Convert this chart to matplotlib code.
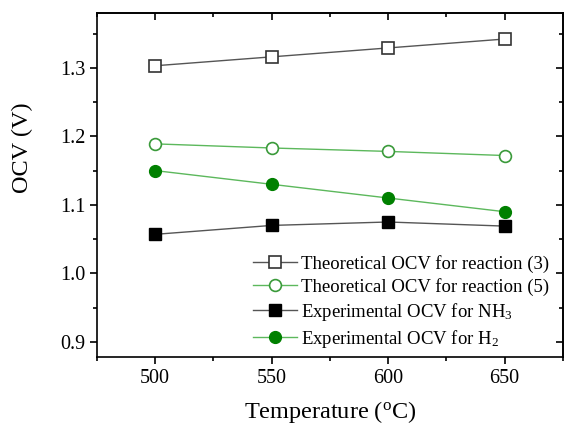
import matplotlib
matplotlib.use("Agg")
import matplotlib.pyplot as plt
from matplotlib.ticker import MultipleLocator

temps = [500, 550, 600, 650]
theo3 = [1.303, 1.316, 1.329, 1.342]
theo5 = [1.189, 1.183, 1.178, 1.172]
exp_nh3 = [1.057, 1.070, 1.075, 1.069]
exp_h2 = [1.150, 1.130, 1.110, 1.090]
labels = ["Theoretical OCV for reaction (3)",
          "Theoretical OCV for reaction (5)",
          "Experimental OCV for NH$_3$",
          "Experimental OCV for H$_2$"]

plt.rcParams['font.family'] = ['Liberation Serif', 'DejaVu Serif']
plt.rcParams['mathtext.fontset'] = 'custom'
plt.rcParams['mathtext.rm'] = 'Liberation Serif'
plt.rcParams['mathtext.it'] = 'Liberation Serif'

fig = plt.figure(figsize=(5.64, 4.26), dpi=100)
ax = fig.add_axes([0.172, 0.162, 0.826, 0.8075])

gray = '#555555'
lgreen = '#5cb85c'
green = '#008000'

ax.plot(temps, theo3, '-', color=gray, lw=1, marker='s', ms=8, mfc='white', mec='#333333', mew=1.2, label=labels[0])
ax.plot(temps, theo5, '-', color=lgreen, lw=1, marker='o', ms=8.5, mfc='white', mec='#3a9a3a', mew=1.2, label=labels[1])
ax.plot(temps, exp_nh3, '-', color=gray, lw=1, marker='s', ms=8, mfc='black', mec='black', label=labels[2])
ax.plot(temps, exp_h2, '-', color=lgreen, lw=1, marker='o', ms=8.5, mfc=green, mec=green, label=labels[3])

ax.set_xlim(475, 675)
ax.set_ylim(0.878, 1.38)
ax.set_xticks(temps)
ax.set_yticks([0.9, 1.0, 1.1, 1.2, 1.3])
ax.xaxis.set_minor_locator(MultipleLocator(25))
ax.yaxis.set_minor_locator(MultipleLocator(0.05))
ax.tick_params(which='both', direction='out', labelsize=14.5, width=1.2)
ax.tick_params(which='major', length=5)
ax.tick_params(which='minor', length=3)
for s in ax.spines.values():
    s.set_linewidth(1.2)

# mirrored ticks pointing inward on top and right
sec_x = ax.secondary_xaxis('top')
sec_x.set_xticks(temps)
sec_x.xaxis.set_minor_locator(MultipleLocator(25))
sec_x.tick_params(which='both', direction='in', labeltop=False, width=1.2)
sec_x.tick_params(which='major', length=5)
sec_x.tick_params(which='minor', length=3)
sec_x.spines['top'].set_linewidth(1.2)
sec_y = ax.secondary_yaxis('right')
sec_y.set_yticks([0.9, 1.0, 1.1, 1.2, 1.3])
sec_y.yaxis.set_minor_locator(MultipleLocator(0.05))
sec_y.tick_params(which='both', direction='in', labelright=False, width=1.2)
sec_y.tick_params(which='major', length=5)
sec_y.tick_params(which='minor', length=3)
sec_y.spines['right'].set_linewidth(1.2)

ax.set_xlabel('Temperature ($^{\\mathrm{o}}$C)', fontsize=17.5, labelpad=8)
ax.set_ylabel('OCV (V)', fontsize=17.5)
ax.yaxis.set_label_coords(-0.137, 0.607)

leg = ax.legend(loc='upper left', frameon=False, fontsize=13.5, handlelength=2.35,
                handletextpad=0.2, labelspacing=0.27, borderpad=0, borderaxespad=0,
                bbox_to_anchor=(0.335, 0.297))

fig.savefig('out.png', dpi=100)
